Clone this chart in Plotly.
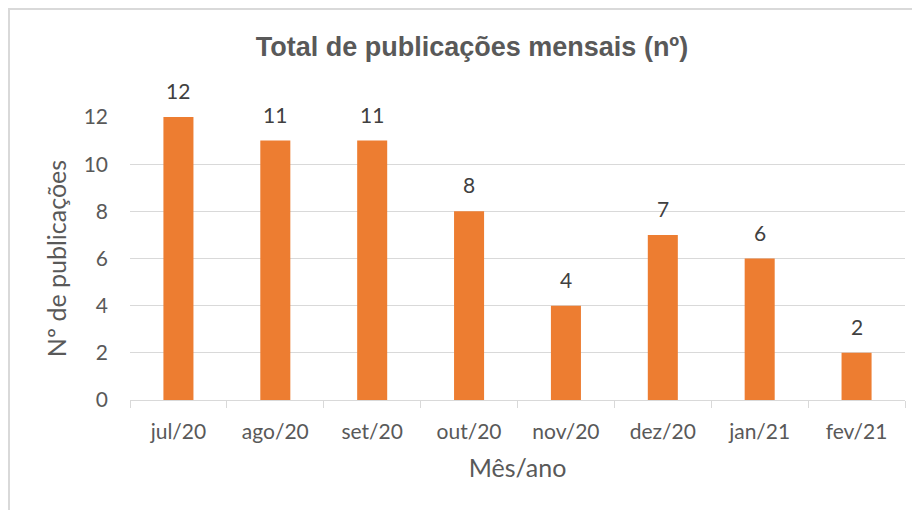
import plotly.graph_objects as go

meses = ["jul/20", "ago/20", "set/20", "out/20", "nov/20", "dez/20", "jan/21", "fev/21"]
publicacoes = [12, 11, 11, 8, 4, 7, 6, 2]

W, H = 912, 502  # page body has an 8px margin
L, T, R, B = 122, 109, 15, 110

fig = go.Figure()
fig.add_trace(go.Bar(
    x=meses, y=publicacoes,
    marker=dict(color="#ED7D31", line=dict(width=0)),
    width=0.31,
))

# data labels above the bars
for m, v in zip(meses, publicacoes):
    fig.add_annotation(x=m, y=v, text=str(v), showarrow=False,
                       yanchor="bottom", yshift=12,
                       font=dict(family="Lato, sans-serif", size=21, color="#404040"))

fig.update_layout(
    width=W, height=H,
    paper_bgcolor="white", plot_bgcolor="white",
    margin=dict(l=L, r=R, t=T, b=B),
    showlegend=False,
    title=dict(text="<b>Total de publicações mensais (nº)</b>", x=464 / W, xanchor="center",
               y=1 - 39 / H, yanchor="middle",
               font=dict(family="Liberation Sans, Arial", size=27, color="#595959")),
    font=dict(family="Lato, sans-serif", color="#595959"),
)
fig.update_xaxes(
    type="category", tickson="boundaries", ticks="outside", ticklen=7,
    tickcolor="#d9d9d9", showline=True, linecolor="#d9d9d9", linewidth=1,
    tickfont=dict(size=21), showgrid=False, ticklabelstandoff=13,
    title=dict(text="Mês/ano", font=dict(size=25), standoff=17),
)
fig.update_yaxes(
    range=[0, 12], dtick=2, showgrid=True, gridcolor="#d9d9d9", zeroline=False,
    tickfont=dict(size=21), ticks="", ticklabelstandoff=21,
    title=dict(text="Nº de publicações", font=dict(size=25), standoff=9),
)
# chart border as in the original
pw, ph = W - L - R, H - T - B
fig.add_shape(type="rect", xref="paper", yref="paper",
              x0=(1 - L) / pw, x1=1 + (R + 20) / ph, y0=-(B + 20) / ph, y1=1 + (T - 1) / ph,
              line=dict(color="#d9d9d9", width=2), layer="below")

fig.write_html("out.html")
